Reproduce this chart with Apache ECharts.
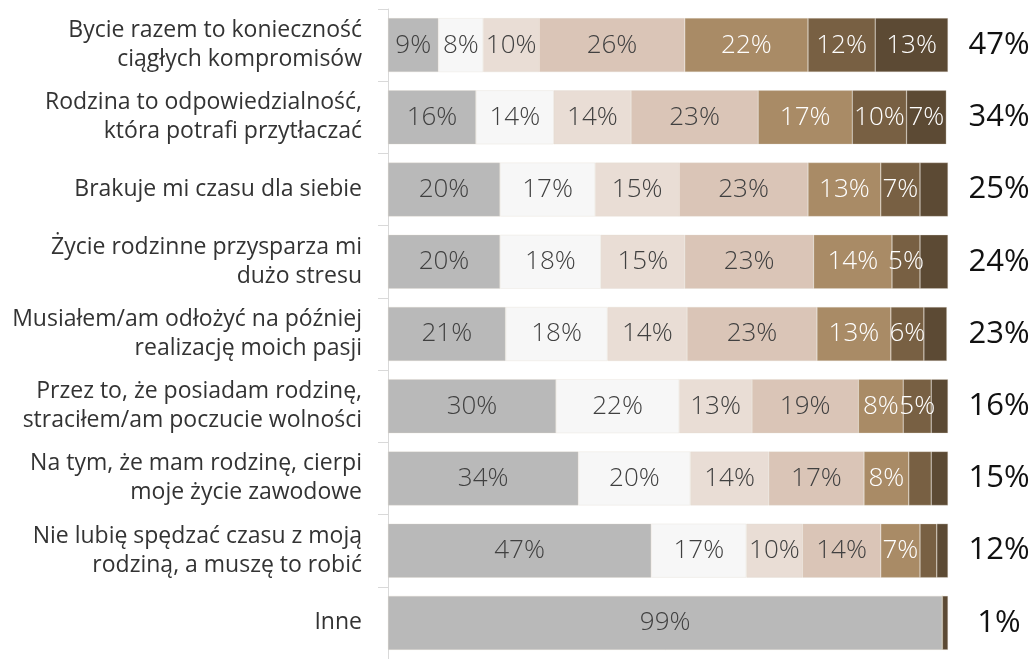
<!DOCTYPE html>
<html>
<head>
<meta charset="utf-8">
<script src="https://cdn.jsdelivr.net/npm/echarts@6/dist/echarts.min.js"></script>
<style>
  html, body { margin: 0; padding: 0; background: #fff; }
  #chart { width: 1034px; height: 659px; }
</style>
</head>
<body>
<div id="chart"></div>
<script>
// kategorie (od góry)
var categories = [
    'Bycie razem to konieczność\nciągłych kompromisów',
    'Rodzina to odpowiedzialność,\nktóra potrafi przytłaczać',
    'Brakuje mi czasu dla siebie',
    'Życie rodzinne przysparza mi\ndużo stresu',
    'Musiałem/am odłożyć na później\nrealizację moich pasji',
    'Przez to, że posiadam rodzinę,\nstraciłem/am poczucie wolności',
    'Na tym, że mam rodzinę, cierpi\nmoje życie zawodowe',
    'Nie lubię spędzać czasu z moją\nrodziną, a muszę to robić',
    'Inne'
];

// segmenty od lewej do prawej
var s1 = [9, 15.7, 20, 20, 21, 30, 34, 47, 99];
var s2 = [8, 13.9, 17, 18, 18.2, 22, 20, 17, 0];
var s3 = [10, 13.8, 15, 15, 14.2, 13, 14, 10, 0];
var s4 = [26, 22.7, 23, 23, 23.2, 19, 17, 14, 0];
var s5 = [22, 16.8, 13, 14, 13.2, 8, 8, 7, 0];
var s6 = [12, 9.7, 7, 5, 5.9, 5, 4, 3, 0];
var s7 = [13, 7.1, 5, 5, 4.1, 3, 3, 2, 1];

// suma po prawej
var totals = ['47%', '34%', '25%', '24%', '23%', '16%', '15%', '12%', '1%'];

var colors = ['#b9b9b9', '#f7f7f7', '#e9ddd5', '#dac5b7', '#a98b66', '#786043', '#5c4a34'];
var labelColors = ['#404040', '#404040', '#404040', '#404040', '#ffffff', '#ffffff', '#ffffff'];
var minLabel = [1, 1, 1, 1, 1, 5, 6];
var allData = [s1, s2, s3, s4, s5, s6, s7];

var series = [];
for (var i = 0; i < allData.length; i++) {
    (function (k) {
        series.push({
            type: 'bar',
            stack: 'all',
            barWidth: 54,
            data: allData[k],
            itemStyle: { color: colors[k], borderColor: 'rgba(225,215,205,0.6)', borderWidth: 0.5 },
            label: {
                show: true,
                position: 'inside',
                color: labelColors[k],
                fontFamily: 'Open Sans',
                fontWeight: 300,
                fontSize: 26,
                formatter: function (p) {
                    return p.value >= minLabel[k] ? Math.round(p.value) + '%' : '';
                }
            },
            emphasis: { disabled: true }
        });
    })(i);
}

var myChart = echarts.init(document.getElementById('chart'));
myChart.setOption({
    animation: false,
    grid: { left: 388, width: 560, top: 9, height: 654, containLabel: false },
    xAxis: {
        type: 'value',
        min: 0,
        max: 100,
        show: false
    },
    yAxis: [{
        type: 'category',
        inverse: true,
        data: categories,
        axisLine: { lineStyle: { color: '#d9d9d9' } },
        axisTick: { show: true, length: 10, lineStyle: { color: '#d9d9d9' } },
        axisLabel: {
            margin: 26,
            color: '#333',
            fontFamily: 'Open Sans',
            fontSize: 23,
            lineHeight: 29,
            align: 'right'
        }
    }, {
        type: 'category',
        inverse: true,
        position: 'right',
        data: totals,
        axisLine: { show: false },
        axisTick: { show: false },
        axisLabel: {
            margin: 51,
            align: 'center',
            color: '#111',
            fontFamily: 'Open Sans',
            fontSize: 31
        }
    }],
    series: series
});
</script>
</body>
</html>
